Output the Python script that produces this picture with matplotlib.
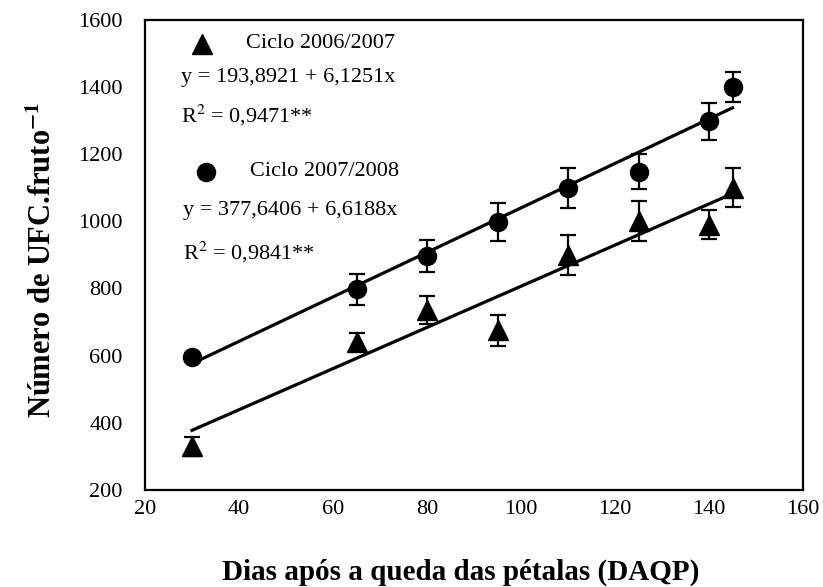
import numpy as np
import matplotlib
matplotlib.use("Agg")
import matplotlib.pyplot as plt

plt.rcParams["font.family"] = ["Liberation Serif", "DejaVu Serif"]
plt.rcParams["mathtext.fontset"] = "stix"

# ---------------------------------------------------------
# Dados
# ---------------------------------------------------------
dias = [30, 65, 80, 95, 110, 125, 140, 145]

ufc_2006 = [330, 640, 735, 675, 900, 1000, 990, 1100]
erro_2006 = [28, 27, 42, 45, 60, 60, 43, 58]

ufc_2007 = [595, 797, 897, 998, 1098, 1147, 1298, 1400]
erro_2007 = [0, 45, 48, 57, 60, 52, 55, 45]

# coeficientes das regressões (a + b*x)
reg_2006 = (193.8921, 6.1251)
reg_2007 = (377.6406, 6.6188)
r2_2006 = "0,9471"
r2_2007 = "0,9841"

xticks = [20, 40, 60, 80, 100, 120, 140, 160]
yticks = [200, 400, 600, 800, 1000, 1200, 1400, 1600]

# ---------------------------------------------------------
# Gráfico
# ---------------------------------------------------------
fig = plt.figure(figsize=(8.23, 5.87), dpi=100)
ax = fig.add_axes([0.1762, 0.1652, 0.7995, 0.8015])

xr = np.array([dias[0], dias[-1]])
ax.plot(xr, reg_2006[0] + reg_2006[1] * xr, color="black", lw=2.3, zorder=2)
ax.plot(xr, reg_2007[0] + reg_2007[1] * xr, color="black", lw=2.3, zorder=2)

ax.errorbar(dias, ufc_2006, yerr=erro_2006, fmt="^", color="black", ms=14,
            ecolor="black", elinewidth=1.6, capsize=5.5, capthick=1.6, zorder=3)
ax.errorbar(dias, ufc_2007, yerr=erro_2007, fmt="o", color="black", ms=13,
            ecolor="black", elinewidth=1.6, capsize=5.5, capthick=1.6, zorder=3)

ax.set_xlim(20, 160)
ax.set_ylim(200, 1600)
ax.set_xticks(xticks)
ax.set_yticks(yticks)
ax.tick_params(axis="both", length=0, labelsize=16)
ax.tick_params(axis="y", pad=16)
ax.tick_params(axis="x", pad=7)
for s in ax.spines.values():
    s.set_linewidth(1.6)

ax.set_xlabel("Dias após a queda das pétalas (DAQP)", fontsize=21, fontweight="bold")
ax.set_ylabel("Número de UFC.fruto$^{\\mathbf{-1}}$", fontsize=22, fontweight="bold")
ax.xaxis.set_label_coords(0.48, -0.145)
ax.yaxis.set_label_coords(-0.133, 0.49)

# legenda manual com equações
ax.plot([0.086], [0.949], "^", color="black", ms=14, transform=ax.transAxes, clip_on=False)
ax.text(0.153, 0.949, "Ciclo 2006/2007", fontsize=16, va="center", transform=ax.transAxes)
ax.text(0.054, 0.876, "y = 193,8921 + 6,1251x", fontsize=16, va="center", transform=ax.transAxes)
ax.text(0.054, 0.797, "R$^2$ = " + r2_2006 + "**", fontsize=16, va="center", transform=ax.transAxes)

ax.plot([0.092], [0.677], "o", color="black", ms=13, transform=ax.transAxes, clip_on=False)
ax.text(0.160, 0.677, "Ciclo 2007/2008", fontsize=16, va="center", transform=ax.transAxes)
ax.text(0.058, 0.595, "y = 377,6406 + 6,6188x", fontsize=16, va="center", transform=ax.transAxes)
ax.text(0.058, 0.506, "R$^2$ = " + r2_2007 + "**", fontsize=16, va="center", transform=ax.transAxes)

fig.savefig("out.png", dpi=100, facecolor="white")
